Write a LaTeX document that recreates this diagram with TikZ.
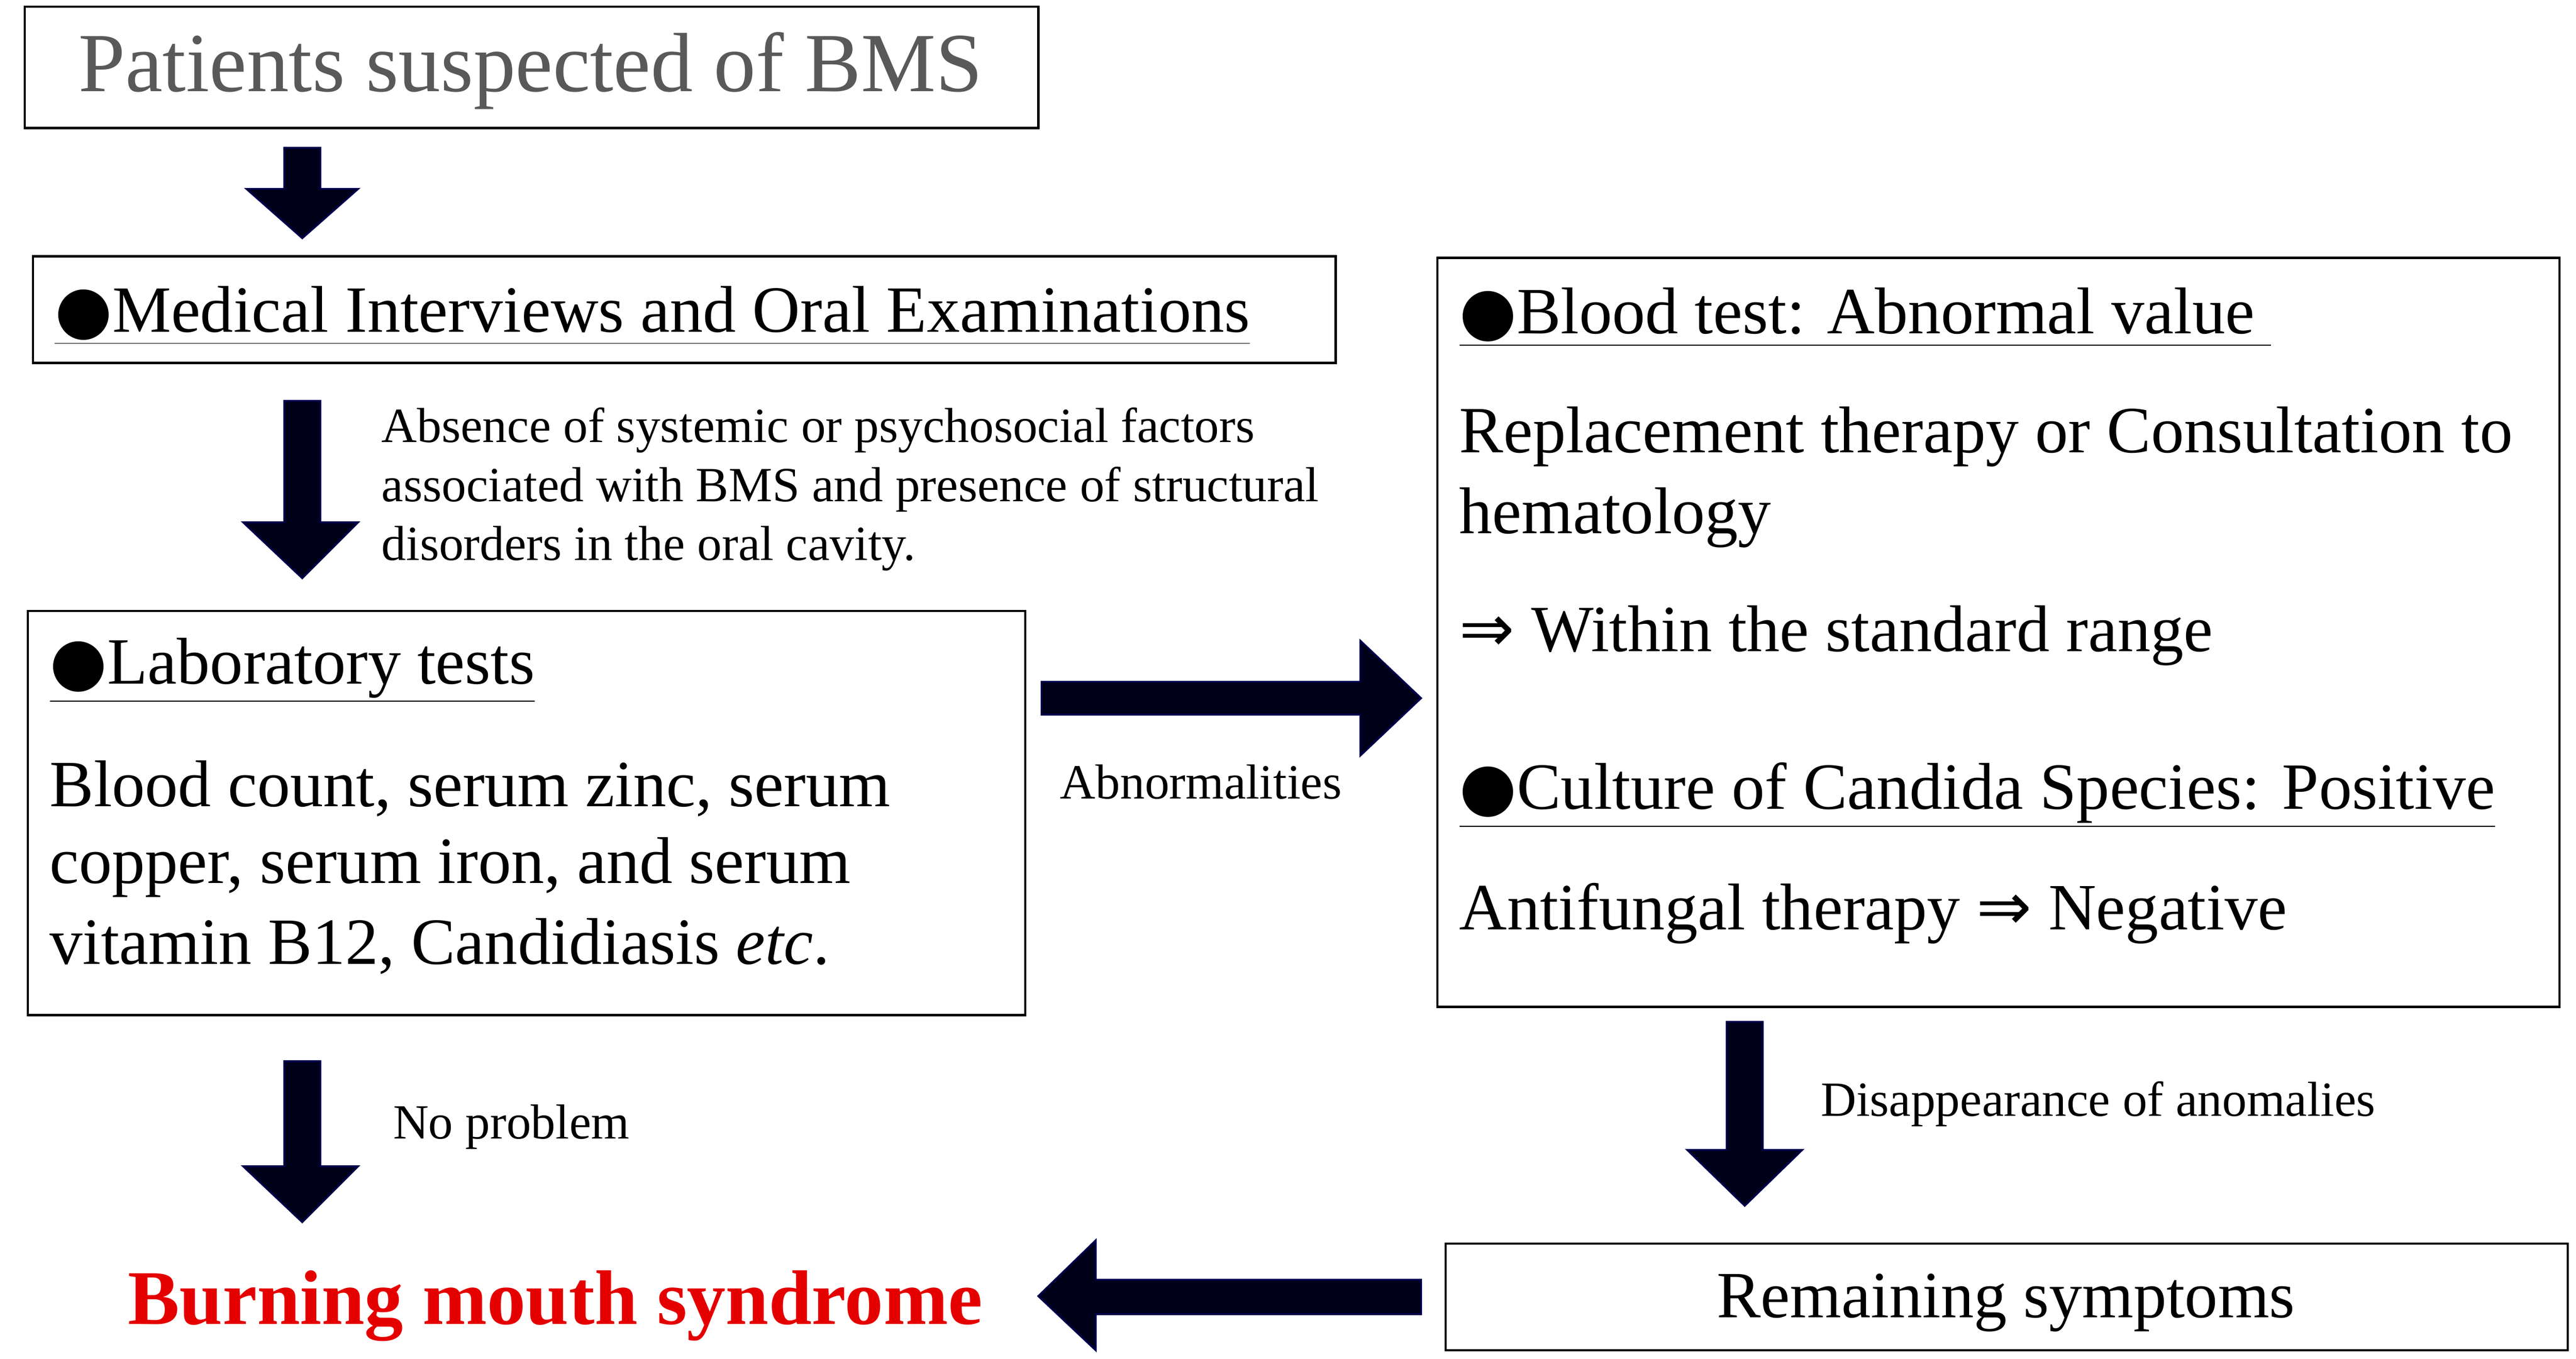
\documentclass[tikz,border=0pt]{standalone}
\usepackage{fontspec}
\setmainfont{Liberation Serif}
\newfontfamily\dv{DejaVu Sans}
\newcommand\bul{{\dv\char"25CF}}
\newcommand\impl{{\dv\char"21D2}}
\begin{document}
\begin{tikzpicture}[x=0.025cm,y=-0.025cm,
  box/.style={draw,line width=1pt},
  blk/.style={fill=black!90!blue,draw=black!70!blue,line width=0.8pt},
  big/.style={font=\fontsize{28.6}{33}\selectfont,anchor=west,inner sep=0},
  sm/.style={font=\fontsize{21.3}{25}\selectfont,anchor=west,inner sep=0}]
\useasboundingbox (0,0) rectangle (1568,827);
\draw[box] (15,4) rectangle (632,78);
\node[font=\fontsize{36.4}{40}\selectfont,text=black!65] (t) at (323,43) {Patients suspected of BMS};
\draw[box] (20,156) rectangle (813,221);
\node[big] (mi) at (33,192) {\underline{\bul Medical Interviews and Oral Examinations}};
\draw[box] (17,372) rectangle (624,618);
\node[big] (lt) at (30,408) {\underline{\bul Laboratory tests}};
\node[big] (l1) at (30,480) {Blood count, serum zinc, serum};
\node[big] (l2) at (30,528) {copper, serum iron, and serum};
\node[big] (l3) at (30,576) {vitamin B12, Candidiasis \textit{etc}.};
\draw[box] (875,157) rectangle (1558,613);
\node[big] (bt) at (888,193) {\underline{\bul Blood test: Abnormal value\ }};
\node[big] (r1) at (888,266) {Replacement therapy or Consultation to};
\node[big] (r2) at (888,315) {hematology};
\node[big] (r3) at (888,387) {\impl\ Within the standard range};
\node[big] (cc) at (888,484) {\underline{\bul Culture of Candida Species: Positive}};
\node[big] (r4) at (888,556) {Antifungal therapy \impl\ Negative};
\draw[box] (880,757) rectangle (1563,822);
\node[font=\fontsize{28.6}{33}\selectfont] (rs) at (1221,793) {Remaining symptoms};
\node[font=\fontsize{33.5}{38}\selectfont\bfseries,text=red!90!black] (bms) at (338,795) {Burning mouth syndrome};
\node[sm] (a1) at (232,262) {Absence of systemic or psychosocial factors};
\node[sm] (a2) at (232,298) {associated with BMS and presence of structural};
\node[sm] (a3) at (232,334) {disorders in the oral cavity.};
\node[sm] (ab) at (645,476) {Abnormalities};
\node[sm] (np) at (239,686) {No problem};
\node[sm] (da) at (1108,672) {Disappearance of anomalies};
% arrows
\draw[blk] (173,90)--(195,90)--(195,115)--(218,115)--(184,145)--(150,115)--(173,115)--cycle;
\draw[blk] (173,244)--(195,244)--(195,318)--(218,318)--(184,352)--(148,318)--(173,318)--cycle;
\draw[blk] (173,646)--(195,646)--(195,710)--(218,710)--(184,744)--(148,710)--(173,710)--cycle;
\draw[blk] (1051,622)--(1073,622)--(1073,700)--(1097,700)--(1062,734)--(1027,700)--(1051,700)--cycle;
\draw[blk] (634,415)--(828,415)--(828,390)--(865,425)--(828,460)--(828,435)--(634,435)--cycle;
\draw[blk] (865,779)--(667,779)--(667,755)--(632,789)--(667,822)--(667,800)--(865,800)--cycle;
\end{tikzpicture}
\end{document}
